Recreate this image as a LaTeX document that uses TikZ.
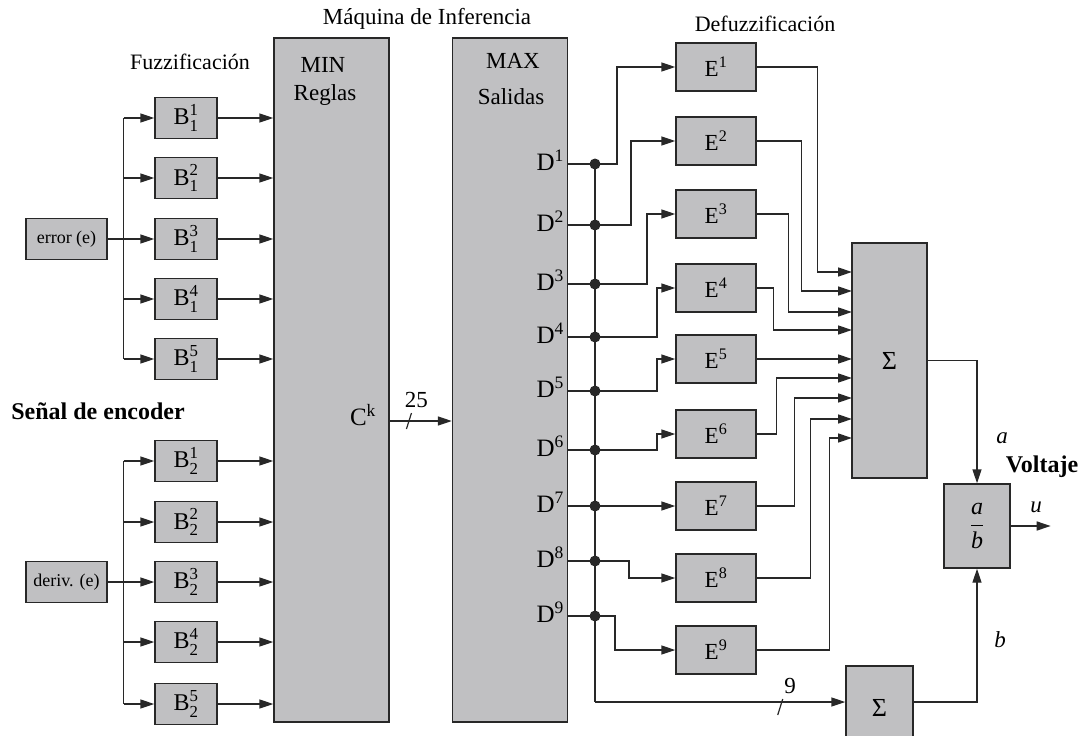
\documentclass[tikz,border=0pt]{standalone}
\usepackage{amsmath}
\usepackage{fontspec}
\setmainfont{Liberation Serif}
\usepackage{tikz}
\usetikzlibrary{arrows.meta,positioning,calc}

\definecolor{boxgray}{RGB}{192,192,194}
\definecolor{edgegray}{RGB}{40,40,40}

\begin{document}
\begin{tikzpicture}[
    x=1pt, y=-1pt,
    block/.style={rectangle, draw=edgegray, fill=boxgray, line width=1.4pt,
                  inner sep=0pt, font=\fontsize{24}{26}\selectfont},
    fuzz/.style={block, minimum width=62pt, minimum height=41pt},
    defz/.style={block, minimum width=80pt, minimum height=48pt,
                 font=\fontsize{23}{26}\selectfont},
    inp/.style={block, minimum width=81pt, minimum height=41pt,
                font=\fontsize{18}{20}\selectfont},
    big/.style={block, minimum width=115pt, minimum height=684pt},
    arr/.style={-{Triangle[length=14pt,width=9pt]}, line width=1.4pt, draw=edgegray},
    wire/.style={line width=1.4pt, draw=edgegray},
    bus/.style={line width=1.2pt, draw=edgegray},
    lab/.style={font=\fontsize{23}{26}\selectfont, inner sep=0pt},
    blab/.style={font=\fontsize{24}{26}\selectfont\bfseries, inner sep=0pt},
    dot/.style={circle, fill=edgegray, inner sep=0pt, minimum size=11pt},
]
\clip (0,0) rectangle (1087,736);

% Titles
\node[lab, font=\fontsize{22}{24}\selectfont] (tfuzz) at (190,62) {Fuzzificación};
\node[lab] (tinf) at (427,19) {Máquina de Inferencia};
\node[lab, font=\fontsize{22}{24}\selectfont] (tdefz) at (765,24) {Defuzzificación};
\node[blab] (tenc) at (98,411) {Señal de encoder};

% Inference engine
\node[big] (min) at (331.5,380) {};
\node[big] (max) at (510,380) {};
\node[lab] (tmin) at (323,65) {MIN};
\node[lab] (trul) at (325,95) {Reglas};
\node[lab] (tmax) at (513,61) {MAX};
\node[lab] (tsal) at (511,97) {Salidas};
\node[lab, font=\fontsize{25}{26}\selectfont] (ck) at (363,415) {C\textsuperscript{k}};

% Fuzzification: error
\node[inp] (err) at (66.5,239) {error (e)};
\foreach \i/\y in {1/118,2/178,3/239,4/299,5/359}
  \node[fuzz] (b1\i) at (186,\y) {$\text{B}^{\text{\i}}_{\text{1}}$};
\draw[wire] (err.east) -- ++(16,0) coordinate (j1);
\draw[wire] (j1 |- b11.west) -- (j1 |- b15.west);

% Fuzzification: derivative
\node[inp] (der) at (66.5,582) {deriv. (e)};
\foreach \i/\y in {1/461,2/522,3/582,4/642,5/704}
  \node[fuzz] (b2\i) at (186,\y) {$\text{B}^{\text{\i}}_{\text{2}}$};
\draw[wire] (der.east) -- ++(16,0) coordinate (j2);
\draw[wire] (j2 |- b21.west) -- (j2 |- b25.west);

\foreach \g in {1,2}
  \foreach \i in {1,...,5} {
    \draw[arr] (j\g |- b\g\i.west) -- (b\g\i.west);
    \draw[arr] (b\g\i.east) -- (b\g\i.east -| min.west);
  }

% Rules to outputs
\draw[arr] ([yshift=-41pt]min.east) -- coordinate[pos=0.31] (s25)
  node[pos=0.43, lab, above=13pt] (n25) {25} ([yshift=-41pt]max.west);
\draw[bus] ($(s25)+(2.5,-8)$) -- ($(s25)+(-2.5,8)$);

% Defuzzification
\foreach \i/\y in {1/67,2/141,3/214,4/288,5/359,6/434,7/506,8/578,9/650}
  \node[defz] (e\i) at (716,\y) {E\textsuperscript{\i}};
\foreach \i/\y in {1/164,2/225,3/284,4/337,5/391,6/450,7/506,8/561,9/616} {
  \coordinate (d\i) at (595,\y);
  \node[lab, anchor=east, font=\fontsize{25}{26}\selectfont] (td\i) at (564,\y-4) {D\textsuperscript{\i}};
  \draw[wire] (max.east |- d\i) -- (d\i);
}
\coordinate (dbot) at (595,702);
\draw[wire] (d1) -- (dbot);
\foreach \i/\dx in {1/22,2/36,3/52,4/62,5/62,6/62,7/0,8/34,9/20}
  \draw[arr] (d\i) -- ++(\dx,0) |- (e\i.west);
\foreach \i in {1,...,9}
  \node[dot] (dot\i) at (d\i) {};

% Sums and ratio
\node[block, minimum width=75pt, minimum height=235pt,
      font=\fontsize{26}{28}\selectfont] (sig) at (889.5,360.5) {Σ};
\node[block, minimum width=67pt, minimum height=84pt,
      font=\fontsize{26}{28}\selectfont] (sumb) at (879.5,708) {Σ};
\node[block, minimum width=66pt, minimum height=84pt] (ratio) at (977,526)
  {$\dfrac{\textit{a}}{\textit{b}}$};

\foreach \i/\dx/\y in {1/61/272,2/45/291,3/32/312,4/17/330,5/40/359,
                       6/20/378,7/38/398,8/54/419,9/73/438} {
  \coordinate (s\i) at (852,\y);
  \draw[arr] (e\i.east) -- ++(\dx,0) |- (s\i);
}

\draw[arr] (dbot) -- coordinate[pos=0.74] (s9)
  node[pos=0.78, lab, above=8pt] (n9) {9} (dbot -| sumb.west);
\draw[bus] ($(s9)+(2.5,-3)$) -- ($(s9)+(-2.5,13)$);
\draw[arr] (sig.east) -| (ratio.north);
\draw[arr] ([yshift=6pt]sumb.east) -| (ratio.south);
\draw[arr] (ratio.east) -- ++(40,0) coordinate (uout);

\node[lab] (la) at (1002,438) {\textit{a}};
\node[lab] (lb) at (1000,640) {\textit{b}};
\node[lab] (lu) at (1036,507) {\textit{u}};
\node[blab] (volt) at (1042,467) {Voltaje};

\end{tikzpicture}
\end{document}
